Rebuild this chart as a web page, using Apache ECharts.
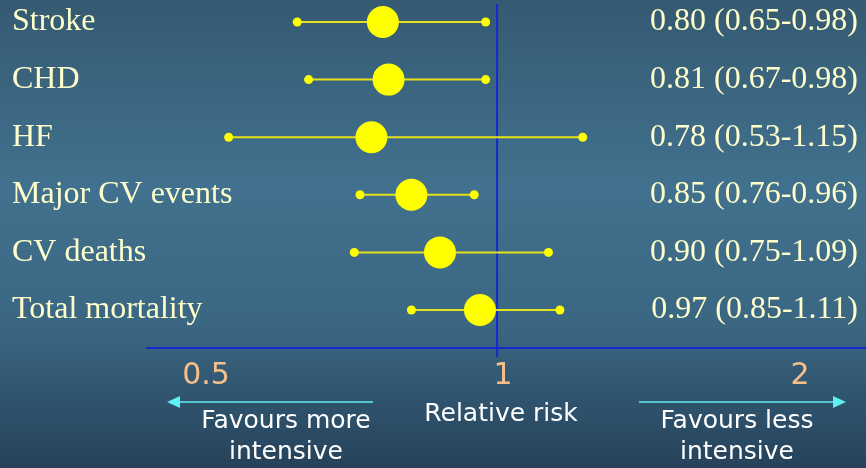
<!DOCTYPE html>
<html>
<head>
<meta charset="utf-8">
<script src="https://cdn.jsdelivr.net/npm/echarts@6/dist/echarts.min.js"></script>
<style>
  html, body { margin: 0; padding: 0; }
  #chart { width: 866px; height: 468px; }
</style>
</head>
<body>
<div id="chart"></div>
<script>
// Forest plot: relative risk with 95% CI per outcome
const categories = ['Stroke', 'CHD', 'HF', 'Major CV events', 'CV deaths', 'Total mortality'];
const relRisk = [0.80, 0.81, 0.78, 0.85, 0.90, 0.97];
const ciLow   = [0.65, 0.67, 0.53, 0.76, 0.75, 0.85];
const ciHigh  = [0.98, 0.98, 1.15, 0.96, 1.09, 1.11];
const rrTicks = [0.5, 1, 2];
const noEffect = 1;

const fmt = v => v.toFixed(2);
const ciText = categories.map((c, i) => fmt(relRisk[i]) + ' (' + fmt(ciLow[i]) + '-' + fmt(ciHigh[i]) + ')');
const rowIdx = categories.map((c, i) => i);

const AXIS_BLUE = '#1428D2';
const TEXT_CREAM = '#FFFFCC';
const YELLOW = '#FFFF00';
const serif = '"Liberation Serif", "Times New Roman", serif';
const sans = '"DejaVu Sans", sans-serif';

const chart = echarts.init(document.getElementById('chart'), null, { renderer: 'canvas' });

const yCommon = {
  type: 'value',
  inverse: true,
  min: -0.3125,
  max: 5.66,
  axisLine: { show: false },
  axisTick: { show: false },
  splitLine: { show: false }
};

chart.setOption({
  animation: false,
  backgroundColor: {
    type: 'linear', x: 0, y: 0, x2: 0, y2: 1,
    colorStops: [
      { offset: 0, color: '#355a72' },
      { offset: 0.4, color: '#41718e' },
      { offset: 0.7, color: '#3a6682' },
      { offset: 1, color: '#26425a' }
    ]
  },
  grid: { left: 147, right: 0, top: 4, bottom: 120, containLabel: false },
  xAxis: [
    {
      type: 'value',
      min: 0.387,
      max: 1.646,
      axisLine: { show: true, onZero: false, lineStyle: { color: AXIS_BLUE, width: 2 } },
      axisTick: { show: false },
      axisLabel: { show: false },
      splitLine: { show: false }
    },
    {
      type: 'log',
      logBase: 2,
      min: 0.4357,
      max: 2.333,
      position: 'bottom',
      axisLine: { show: false, onZero: false },
      axisTick: { show: false },
      splitLine: { show: false },
      axisLabel: {
        show: true,
        showMinLabel: false,
        showMaxLabel: false,
        color: '#F7C089',
        fontFamily: sans,
        fontSize: 30,
        margin: 28,
        verticalAlign: 'middle',
        formatter: v => rrTicks.some(t => Math.abs(t - v) < 1e-6) ? String(+v.toFixed(3)) : ''
      }
    }
  ],
  yAxis: [
    Object.assign({}, yCommon, {
      position: 'left',
      axisLabel: {
        customValues: rowIdx,
        align: 'left',
        margin: 135,
        color: TEXT_CREAM,
        fontFamily: serif,
        fontSize: 32,
        formatter: v => categories[Math.round(v)] || ''
      }
    }),
    Object.assign({}, yCommon, {
      position: 'right',
      axisLabel: {
        customValues: rowIdx,
        inside: true,
        align: 'right',
        margin: 8,
        color: TEXT_CREAM,
        fontFamily: serif,
        fontSize: 32,
        formatter: v => ciText[Math.round(v)] || ''
      }
    })
  ],
  series: [
    {
      // reference line at RR = 1, running slightly past the axis as a tick
      type: 'custom',
      xAxisIndex: 0,
      yAxisIndex: 0,
      z: 1,
      silent: true,
      clip: false,
      data: [[noEffect]],
      encode: { x: 0 },
      renderItem: (params, api) => {
        const cs = params.coordSys;
        const x = api.coord([api.value(0), 0])[0];
        return {
          type: 'line',
          shape: { x1: x, y1: cs.y, x2: x, y2: cs.y + cs.height + 9 },
          style: { stroke: AXIS_BLUE, lineWidth: 2 }
        };
      }
    },
    {
      // confidence interval whiskers
      type: 'custom',
      xAxisIndex: 0,
      yAxisIndex: 0,
      z: 2,
      silent: true,
      data: rowIdx.map(i => [ciLow[i], ciHigh[i], i]),
      encode: { x: [0, 1], y: 2 },
      renderItem: (params, api) => {
        const p1 = api.coord([api.value(0), api.value(2)]);
        const p2 = api.coord([api.value(1), api.value(2)]);
        return {
          type: 'line',
          shape: { x1: p1[0], y1: p1[1], x2: p2[0], y2: p2[1] },
          style: { stroke: '#E6E21A', lineWidth: 2 }
        };
      }
    },
    {
      // CI end points
      type: 'scatter',
      xAxisIndex: 0,
      yAxisIndex: 0,
      z: 3,
      symbol: 'circle',
      symbolSize: 9,
      itemStyle: { color: YELLOW, opacity: 1 },
      silent: true,
      data: rowIdx.map(i => [ciLow[i], i]).concat(rowIdx.map(i => [ciHigh[i], i]))
    },
    {
      // point estimates
      type: 'scatter',
      xAxisIndex: 0,
      yAxisIndex: 0,
      z: 4,
      symbol: 'circle',
      symbolSize: 32,
      itemStyle: { color: YELLOW, opacity: 1 },
      silent: true,
      data: rowIdx.map(i => [relRisk[i], i])
    }
  ],
  graphic: [
    // direction arrows
    { type: 'line', shape: { x1: 373, y1: 402, x2: 178, y2: 402 }, style: { stroke: '#52C6CC', lineWidth: 2 } },
    { type: 'polygon', shape: { points: [[167, 402], [180, 396], [180, 408]] }, style: { fill: '#5CF2F4' } },
    { type: 'line', shape: { x1: 639, y1: 402, x2: 835, y2: 402 }, style: { stroke: '#52C6CC', lineWidth: 2 } },
    { type: 'polygon', shape: { points: [[846, 402], [833, 396], [833, 408]] }, style: { fill: '#5CF2F4' } },
    // annotations
    { type: 'text', x: 286, y: 421, style: { text: 'Favours more', fill: '#FFFFFF', font: '25px ' + sans, align: 'center', verticalAlign: 'middle' } },
    { type: 'text', x: 286, y: 452, style: { text: 'intensive', fill: '#FFFFFF', font: '25px ' + sans, align: 'center', verticalAlign: 'middle' } },
    { type: 'text', x: 501, y: 414, style: { text: 'Relative risk', fill: '#FFFFFF', font: '25px ' + sans, align: 'center', verticalAlign: 'middle' } },
    { type: 'text', x: 737, y: 421, style: { text: 'Favours less', fill: '#FFFFFF', font: '25px ' + sans, align: 'center', verticalAlign: 'middle' } },
    { type: 'text', x: 737, y: 452, style: { text: 'intensive', fill: '#FFFFFF', font: '25px ' + sans, align: 'center', verticalAlign: 'middle' } }
  ]
});
</script>
</body>
</html>
